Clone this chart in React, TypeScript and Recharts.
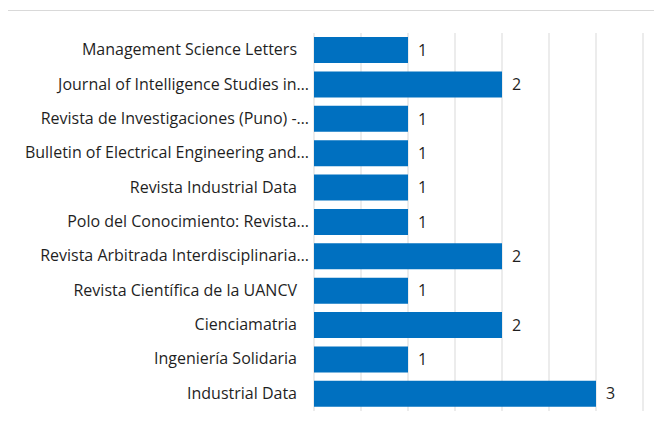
import React from "react";
import { BarChart, Bar, XAxis, YAxis, CartesianGrid, LabelList } from "recharts";

const journals = [
  "Management Science Letters",
  "Journal of Intelligence Studies in…",
  "Revista de Investigaciones (Puno) -…",
  "Bulletin of Electrical Engineering and…",
  "Revista Industrial Data",
  "Polo del Conocimiento: Revista…",
  "Revista Arbitrada Interdisciplinaria…",
  "Revista Científica de la UANCV",
  "Cienciamatria",
  "Ingeniería Solidaria",
  "Industrial Data",
];
const counts = [1, 2, 1, 1, 1, 1, 2, 1, 2, 1, 3];
const xTicks = [0, 0.5, 1, 1.5, 2, 2.5, 3, 3.5];

const data = journals.map((name, i) => ({ name, value: counts[i] }));

const FONT = "'Open Sans', sans-serif";

const Tick = (props: any) => {
  const { x, y, payload } = props;
  const s: string = payload.value;
  const truncated = s.endsWith("…");
  return (
    <text
      x={truncated ? x + 3 : x - 9}
      y={y}
      dy={5}
      textAnchor="end"
      fontSize={16}
      fontFamily={FONT}
      fill="#1f1f1f"
    >
      {s}
    </text>
  );
};

const EmptyTick = () => <g />;

export default function App() {
  return (
    <div
      style={{
        width: 655,
        height: 422,
        marginLeft: -1,
        marginTop: 2,
        borderTop: "1px solid #d9d9d9",
        borderLeft: "1px solid #d9d9d9",
        boxSizing: "border-box",
      }}
    >
      <BarChart
        width={654}
        height={419}
        data={data}
        layout="vertical"
        margin={{ top: 22, right: 19, bottom: 18, left: 0 }}
        barCategoryGap="12%"
      >
        <CartesianGrid horizontal={false} vertical={true} stroke="#d9d9d9" strokeWidth={1} />
        <XAxis
          type="number"
          domain={[0, 3.5]}
          ticks={xTicks}
          interval={0}
          axisLine={false}
          tickLine={false}
          tick={EmptyTick}
          height={1}
        />
        <YAxis
          type="category"
          dataKey="name"
          width={306}
          axisLine={false}
          tickLine={false}
          interval={0}
          tick={<Tick />}
        />
        <Bar dataKey="value" fill="#0070C0" isAnimationActive={false}>
          <LabelList
            dataKey="value"
            position="right"
            offset={10}
            fontSize={16}
            fontFamily={FONT}
            fill="#1f1f1f"
          />
        </Bar>
      </BarChart>
    </div>
  );
}
